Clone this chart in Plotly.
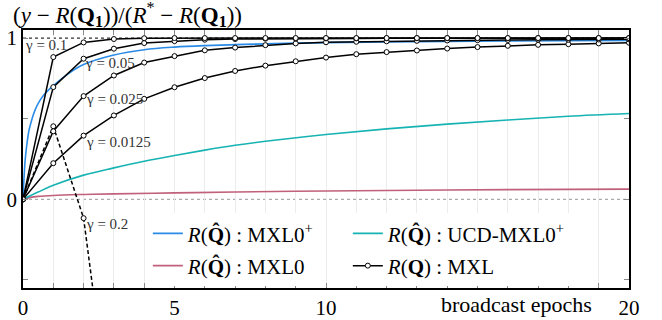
import plotly.graph_objects as go

# ---------------- data ----------------
epochs = list(range(0, 21))

mxl_g01 = [0, 0.882, 0.973, 0.994, 0.999, 1.0, 1.0, 1.0, 1.0, 1.0, 1.0,
           1.0, 1.0, 1.0, 1.0, 1.0, 1.0, 1.0, 1.0, 1.0, 1.0]
mxl_g005 = [0, 0.696, 0.872, 0.934, 0.969, 0.981, 0.99, 0.994, 0.996, 0.997, 0.998,
            0.998, 0.999, 0.999, 0.999, 0.999, 0.999, 1.0, 1.0, 1.0, 1.0]
mxl_g0025 = [0, 0.422, 0.64, 0.768, 0.848, 0.888, 0.924, 0.941, 0.956, 0.967, 0.974,
             0.977, 0.98, 0.983, 0.985, 0.987, 0.988, 0.99, 0.99, 0.991, 0.992]
mxl_g00125 = [0, 0.224, 0.395, 0.52, 0.623, 0.695, 0.752, 0.796, 0.829, 0.856, 0.879,
              0.9, 0.913, 0.923, 0.935, 0.944, 0.952, 0.958, 0.962, 0.967, 0.971]
epochs_g02 = [0, 1, 2, 3]
mxl_g02 = [0, 0.453, -0.117, -1.55]

t_mxl0p = [0, 0.03, 0.07, 0.12, 0.2, 0.3, 0.4, 0.55, 0.7, 1.0, 1.5, 2, 3, 4, 5, 6, 8, 10, 13, 16, 20]
y_mxl0p = [0, 0.12, 0.24, 0.33, 0.43, 0.50, 0.555, 0.61, 0.65, 0.705, 0.78, 0.836, 0.895,
           0.928, 0.944, 0.953, 0.964, 0.972, 0.978, 0.982, 0.985]

t_ucd = [0, 0.5, 1, 2, 3, 4, 5, 6, 7, 8, 10, 12, 14, 16, 18, 20]
y_ucd = [0, 0.045, 0.087, 0.15, 0.195, 0.236, 0.272, 0.305, 0.335, 0.36, 0.402,
         0.437, 0.466, 0.492, 0.515, 0.532]

t_mxl0 = [0, 0.25, 0.5, 1, 2, 3, 5, 7, 10, 13, 16, 20]
y_mxl0 = [0, 0.012, 0.018, 0.024, 0.03, 0.034, 0.04, 0.045, 0.052, 0.056, 0.06, 0.063]

gamma_labels = ["γ = 0.1", "γ = 0.05", "γ = 0.025", "γ = 0.0125", "γ = 0.2"]
gamma_label_x = [0.76, 2.87, 3.02, 3.14, 2.77]
gamma_label_y = [0.957, 0.845, 0.623, 0.356, -0.155]

x_tickvals = [0, 5, 10, 20]
x_ticktext = ["0", "5", "10", "20"]
y_tickvals = [-0.5, 0, 0.5, 1]
y_ticktext = [" ", "0", " ", "1"]

# ---------------- style ----------------
FONT = "Liberation Serif"
BLUE = "#2a8be6"
TEAL = "#17b3b3"
RED = "#c0607a"

fig = go.Figure()

fig.add_trace(go.Scatter(x=t_mxl0p, y=y_mxl0p, mode="lines", line=dict(color=BLUE, width=1.6, shape="spline"),
                         name="<i>R</i>(<b>Q̂</b>) : MXL0<sup>+</sup>", legend="legend", legendgroup="a"))
fig.add_trace(go.Scatter(x=t_mxl0, y=y_mxl0, mode="lines", line=dict(color=RED, width=1.6, shape="spline"),
                         name="<i>R</i>(<b>Q̂</b>) : MXL0", legend="legend", legendgroup="b"))
fig.add_trace(go.Scatter(x=t_ucd, y=y_ucd, mode="lines", line=dict(color=TEAL, width=1.6, shape="spline"),
                         name="<i>R</i>(<b>Q̂</b>) : UCD-MXL0<sup>+</sup>", legend="legend2", legendgroup="c"))

marker = dict(symbol="circle", size=5, color="white", line=dict(color="black", width=1))
fig.add_trace(go.Scatter(x=epochs_g02, y=mxl_g02, mode="lines+markers",
                         line=dict(color="black", width=1.5, dash="4px,2.5px"), marker=marker,
                         showlegend=False))
for i, ys in enumerate([mxl_g00125, mxl_g0025, mxl_g005, mxl_g01]):
    fig.add_trace(go.Scatter(x=epochs, y=ys, mode="lines+markers",
                             line=dict(color="black", width=1.5), marker=marker,
                             name="<i>R</i>(<b>Q</b>) : MXL", legend="legend2", legendgroup="d",
                             showlegend=(i == 0)))

# reference lines
fig.add_shape(type="line", xref="x", yref="y", x0=0, x1=20, y0=1, y1=1,
              line=dict(color="#333", width=1.2, dash="dot"), layer="below")
fig.add_shape(type="line", xref="x", yref="y", x0=0, x1=20, y0=0, y1=0,
              line=dict(color="#aaa", width=1.2, dash="dot"), layer="below")

for txt, lx, ly in zip(gamma_labels, gamma_label_x, gamma_label_y):
    fig.add_annotation(x=lx, y=ly, xref="x", yref="y", text=txt, showarrow=False,
                       font=dict(family=FONT, size=15, color="#333"))

fig.add_annotation(x=16.3, y=0, xref="x", yref="paper", yanchor="top", yshift=-2,
                   text="broadcast epochs", showarrow=False,
                   font=dict(family=FONT, size=22, color="black"))

fig.add_annotation(x=0, y=1, xref="paper", yref="paper", xanchor="left", yanchor="bottom",
                   xshift=-12, yshift=-2,
                   text="(<i>y</i> − <i>R</i>(<b>Q<sub>1</sub></b>))/(<i>R</i><sup>*</sup> − <i>R</i>(<b>Q<sub>1</sub></b>))",
                   showarrow=False, font=dict(family=FONT, size=23, color="black"))

legend_common = dict(bgcolor="white", borderwidth=0, orientation="v",
                     font=dict(family=FONT, size=21, color="black"),
                     tracegroupgap=2, xanchor="left", yanchor="top")

fig.update_layout(
    width=662, height=320,
    margin=dict(l=23, r=33, t=30, b=32),
    paper_bgcolor="white", plot_bgcolor="white",
    font=dict(family=FONT, size=20, color="black"),
    legend=dict(x=0.206, y=0.29, **legend_common),
    legend2=dict(x=0.536, y=0.29, **legend_common),
    xaxis=dict(range=[0, 20], tickvals=x_tickvals, ticktext=x_ticktext, automargin=False,
               ticks="inside", ticklen=5, tickcolor="#888", tickwidth=1,
               showgrid=True, gridcolor="#ececec", gridwidth=1,
               minor=dict(dtick=1, tick0=0, ticks="inside", ticklen=5, tickcolor="#888",
                          showgrid=True, gridcolor="#ececec"),
               showline=True, linecolor="black", linewidth=1.5, mirror="ticks",
               zeroline=False, tickfont=dict(family=FONT, size=21)),
    yaxis=dict(range=[-0.55, 1.05], tickvals=y_tickvals, ticktext=y_ticktext, automargin=False,
               ticks="inside", ticklen=5, tickcolor="#888", tickwidth=1,
               showgrid=False, showline=True, linecolor="black", linewidth=1.5,
               mirror="ticks", zeroline=False, tickfont=dict(family=FONT, size=21)),
)

fig.write_html("out.html", config={"displayModeBar": False},
               post_script="document.body.style.margin='0';document.body.style.padding='0';")
